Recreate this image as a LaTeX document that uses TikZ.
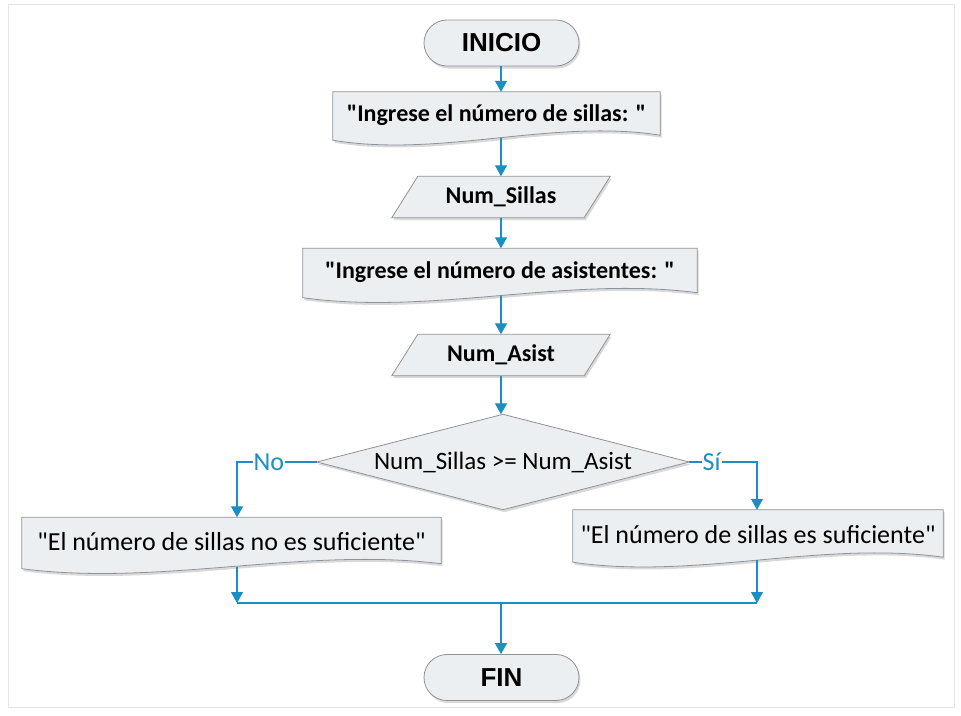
\documentclass[tikz,border=0pt]{standalone}
\usepackage{fontspec}
\setmainfont{Carlito}
\newfontfamily\termfont{Liberation Sans}
\usetikzlibrary{shapes.misc,calc,arrows.meta,shadows,backgrounds}
\definecolor{flowblue}{HTML}{1B8FC4}
\definecolor{boxfill}{HTML}{ECEFF2}
\definecolor{boxline}{HTML}{8E9398}
\definecolor{framecol}{HTML}{E2E4E6}
\newcommand\dq{\XeTeXglyph\XeTeXcharglyph"22\relax}
\newcommand\docshape[1]{\path[box] (#1.north west) -- (#1.north east) -- ($(#1.south east)+(0,-3)$) .. controls ($(#1.south west)!0.67!(#1.south east)+(0,-20)$) and ($(#1.south west)!0.33!(#1.south east)+(0,20)$) .. ($(#1.south west)+(0,2)$) -- cycle;}
\newcommand\ioshape[1]{\path[box] ($(#1.north west)+(13,0)$) -- ($(#1.north east)+(13,0)$) -- ($(#1.south east)+(-13,0)$) -- ($(#1.south west)+(-13,0)$) -- cycle;}
\newcommand\decshape[1]{\path[box] (#1.north) -- (#1.east) -- (#1.south) -- (#1.west) -- cycle;}
\begin{document}
\begin{tikzpicture}[x=1pt,y=-1pt,
  box/.style={draw=boxline, fill=boxfill, line width=0.8pt, drop shadow={opacity=0.3, shadow xshift=1.5pt, shadow yshift=-2.5pt}},
  term/.style={box, rounded rectangle, minimum width=155pt, minimum height=46pt, inner sep=0pt, font=\termfont\bfseries\fontsize{26}{30}\selectfont},
  boldtxt/.style={inner sep=0pt, font=\bfseries\fontsize{24}{28}\selectfont},
  regtxt/.style={inner sep=0pt, font=\fontsize{26}{30}\selectfont},
  flow/.style={draw=flowblue, line width=1.3pt, -{Triangle[length=11pt,width=12pt]}},
  joinline/.style={draw=flowblue, line width=1.3pt},
  lbl/.style={fill=white, inner sep=1pt, text=flowblue, font=\fontsize{26}{28}\selectfont}]
\useasboundingbox (0,0) rectangle (961,715);
\draw[framecol, line width=1pt] (8,4) rectangle (954,707);
\coordinate (col) at (501,0);
\node[term] (ini) at (501.5,43) {INICIO};
\node[boldtxt, minimum width=327pt, minimum height=46pt] (d1) at (496.5,115) {\dq Ingrese el número de sillas: \dq};
\node[boldtxt, minimum width=192pt, minimum height=41pt] (in1) at (501,197) {Num\_Sillas};
\node[boldtxt, minimum width=394pt, minimum height=47pt] (d2) at (500,272) {\dq Ingrese el número de asistentes: \dq};
\node[boldtxt, minimum width=192pt, minimum height=41pt] (in2) at (501,355) {Num\_Asist};
\node[inner sep=0pt, font=\fontsize{25}{28}\selectfont, minimum width=372pt, minimum height=95pt] (dec) at (503,462) {Num\_Sillas >= Num\_Asist};
\node[regtxt, minimum width=419pt, minimum height=49pt] (dl) at (231.5,542) {\dq El número de sillas no es suficiente\dq};
\node[regtxt, minimum width=370pt, minimum height=50pt] (dr) at (758,535) {\dq El número de sillas es suficiente\dq};
\node[term] (fin) at (501.5,677.5) {FIN};
\begin{scope}[on background layer]
  \docshape{d1}
  \ioshape{in1}
  \docshape{d2}
  \ioshape{in2}
  \decshape{dec}
  \docshape{dl}
  \docshape{dr}
\end{scope}
\coordinate (cL) at (237,462);
\coordinate (cR) at (757,462);
\coordinate (mL) at (237,603);
\coordinate (mR) at (757,603);
\draw[flow] (col |- ini.south) -- (col |- d1.north);
\draw[flow] (col |- d1.south) -- (col |- in1.north);
\draw[flow] (col |- in1.south) -- (col |- d2.north);
\draw[flow] (col |- d2.south) -- (col |- in2.north);
\draw[flow] (col |- in2.south) -- (col |- dec.north);
\draw[flow] (dec.west) -- node[lbl, pos=0.6] {No} (cL) -- (cL |- dl.north);
\draw[flow] (dec.east) -- node[lbl, pos=0.33] {Sí} (cR) -- (cR |- dr.north);
\draw[flow] (dl.south -| mL) -- (mL);
\draw[flow] (dr.south -| mR) -- (mR);
\draw[joinline] (mL) -- (mR);
\draw[flow] (col |- mL) -- (col |- fin.north);
\end{tikzpicture}
\end{document}
